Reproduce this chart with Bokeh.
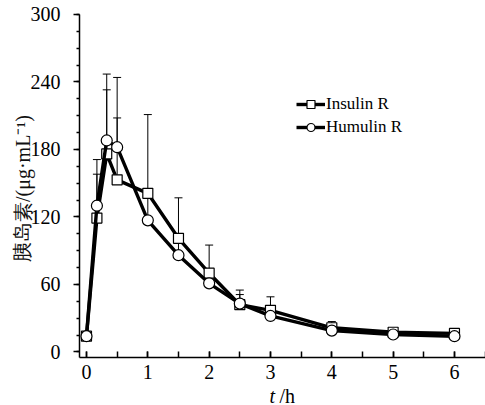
from bokeh.plotting import figure
from bokeh.models import Range1d, FixedTicker, Whisker, ColumnDataSource, Label, TeeHead
from bokeh.embed import file_html
from bokeh.resources import INLINE

# ---- data ----
time_h = [0, 0.17, 0.33, 0.5, 1, 1.5, 2, 2.5, 3, 4, 5, 6]
insulin_r = [14, 119, 176, 153, 141, 101, 70, 42, 37, 21.5, 17.5, 16.5]
insulin_r_upper = [14, 158, 233, 208, 211, 137, 95, 51, 49, 27, 20, 19]
humulin_r = [14, 130, 188, 182, 117, 86, 61, 43, 32, 19, 15.5, 14]
humulin_r_upper = [14, 171, 247, 244, 138, 97, 68, 55, 36, 21, 17, 16]
x_ticks = [0, 1, 2, 3, 4, 5, 6]
y_ticks = [0, 60, 120, 180, 240, 300]
series_names = ["Insulin R", "Humulin R"]
y_title = "胰岛素/(μg·mL⁻¹)"
x_title_var = "t"
x_title_unit = "/h"

SERIF = "Liberation Serif"

# the whole canvas is the frame; axes are drawn at fixed locations inside it
p = figure(
    width=485, height=405,
    min_border_left=0, min_border_right=0, min_border_top=0, min_border_bottom=0,
    x_range=Range1d(-1.402, 6.506), y_range=Range1d(-47.6, 312.4),
    output_backend="svg", toolbar_location=None,
)
p.outline_line_color = None
p.grid.visible = False
p.background_fill_color = "white"
p.border_fill_color = "white"

src_i = ColumnDataSource(dict(t=time_h, v=insulin_r, up=insulin_r_upper))
src_h = ColumnDataSource(dict(t=time_h, v=humulin_r, up=humulin_r_upper))

for src in (src_i, src_h):
    w = Whisker(source=src, base="t", lower="v", upper="up",
                line_color="black", line_width=1,
                upper_head=TeeHead(size=8, line_color="black", line_width=1),
                lower_head=None)
    p.add_layout(w)

p.line("t", "v", source=src_i, line_width=3.4, color="black", legend_label=series_names[0])
p.scatter("t", "v", source=src_i, marker="square", size=10, fill_color="white",
          line_color="black", line_width=1.2, legend_label=series_names[0])
p.line("t", "v", source=src_h, line_width=3.4, color="black", legend_label=series_names[1])
p.scatter("t", "v", source=src_h, marker="circle", size=11, fill_color="white",
          line_color="black", line_width=1.2, legend_label=series_names[1])

xa = p.xaxis[0]
xa.fixed_location = -5
xa.bounds = (-0.114, 6.506)
xa.ticker = FixedTicker(ticks=x_ticks, minor_ticks=[i * 0.5 for i in range(0, 14)])
xa.major_tick_in = 6
xa.major_tick_out = 0
xa.minor_tick_in = 6
xa.minor_tick_out = 0
xa.major_label_standoff = 7
ya = p.yaxis[0]
ya.fixed_location = -0.114
ya.bounds = (-5, 300)
ya.ticker = FixedTicker(ticks=y_ticks, minor_ticks=[i * 15 for i in range(0, 21)])
ya.major_tick_in = 0
ya.major_tick_out = 6
ya.minor_tick_in = 0
ya.minor_tick_out = 3
ya.major_label_standoff = 13
for ax in (xa, ya):
    ax.axis_line_width = 1.5
    ax.axis_line_color = "black"
    ax.major_tick_line_width = 1.5
    ax.minor_tick_line_width = 1.5
    ax.major_tick_line_color = "black"
    ax.minor_tick_line_color = "black"
    ax.major_label_text_font = SERIF
    ax.major_label_text_font_size = "20px"
    ax.major_label_text_color = "black"

# axis titles (screen units relative to the frame = canvas)
p.add_layout(Label(x=22, y=217, x_units="screen", y_units="screen", text=y_title,
                   angle=1.5707963, text_align="center", text_baseline="middle",
                   text_font=SERIF, text_font_size="20px", text_color="#111111"))
p.add_layout(Label(x=269, y=10, x_units="screen", y_units="screen", text=x_title_var,
                   text_align="left", text_baseline="alphabetic", text_font_style="italic",
                   text_font=SERIF, text_font_size="20px", text_color="black"))
p.add_layout(Label(x=279, y=10, x_units="screen", y_units="screen", text=x_title_unit,
                   text_align="left", text_baseline="alphabetic",
                   text_font=SERIF, text_font_size="20px", text_color="black"))

lg = p.legend[0]
lg.location = (296, 268)
lg.background_fill_alpha = 0
lg.border_line_color = None
lg.label_text_font = SERIF
lg.label_text_font_size = "17px"
lg.label_text_color = "black"
lg.glyph_width = 29
lg.glyph_height = 20
lg.label_height = 20
lg.spacing = 3
lg.padding = 0
lg.margin = 0
lg.label_standoff = 1

open("out.html", "w").write(file_html(p, INLINE))
